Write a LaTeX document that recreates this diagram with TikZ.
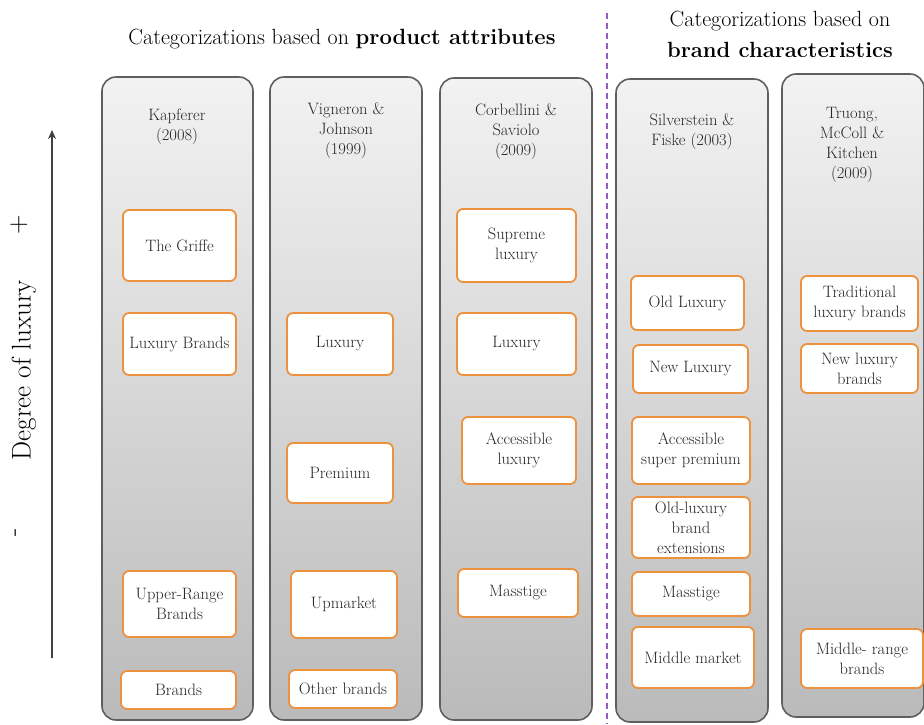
\documentclass[tikz,border=0pt]{standalone}
\usepackage{xcolor}
\usepackage{tikz}
\usetikzlibrary{arrows.meta}
\definecolor{boxorange}{RGB}{236,146,62}
\definecolor{colborder}{RGB}{95,95,95}
\definecolor{divpurple}{RGB}{150,90,200}

\begin{document}
\begin{tikzpicture}[>={Stealth[length=9pt,width=8pt]},x=1pt,y=-1pt,
  column/.style={draw=colborder,line width=1.6pt,rounded corners=14pt,top color=white!95!black,bottom color=white!73!black,inner sep=0pt},
  cat/.style={draw=boxorange,line width=1.8pt,fill=white,rounded corners=6pt,align=center,inner sep=1pt,text=black!85,font=\fontsize{16.5}{20}\selectfont},
  author/.style={align=center,inner sep=0pt,text=black!85,font=\fontsize{16.5}{20}\selectfont},
  heading/.style={align=center,inner sep=0pt,font=\fontsize{22}{31}\selectfont}]
\useasboundingbox (0,0) rectangle (924,724);

\node[heading] (prodhead) at (342,39) {Categorizations based on \textbf{product attributes}};
\node[heading] (brandhead) at (780,34) {Categorizations based on\\\textbf{brand characteristics}};

\coordinate (divtop) at (607,13);
\coordinate (divbot) at (607,724);
\draw[divpurple,line width=2.6pt,dash pattern=on 6pt off 4pt] (divtop)--(divbot);

\coordinate (low) at (52,658);
\coordinate (high) at (52,130);
\draw[->,line width=1.6pt,black!75] (low)--(high);
\node[rotate=90,font=\fontsize{27}{30}\selectfont] (degree) at (24,370) {Degree of luxury};
\node[rotate=90,font=\fontsize{27}{30}\selectfont] (plus) at (19,225) {+};
\node[rotate=90,font=\fontsize{27}{30}\selectfont] (minus) at (18,532) {-};

\node[column,minimum width=151pt,minimum height=643pt] (kapf) at (177.5,398.5) {};
\node[column,minimum width=152pt,minimum height=643pt] (vign) at (346,398.5) {};
\node[column,minimum width=152pt,minimum height=642pt] (corb) at (516,399) {};
\node[column,minimum width=152pt,minimum height=643pt] (silv) at (692,400.5) {};
\node[column,minimum width=142pt,minimum height=643pt] (truo) at (853,395.5) {};

\node[author] (kapft) at (177,127) {Kapferer\\(2008)};
\node[author] (vignt) at (346,131) {Vigneron \&\\Johnson\\(1999)};
\node[author] (corbt) at (516,132) {Corbellini \&\\Saviolo\\(2009)};
\node[author] (silvt) at (692,132) {Silverstein \&\\Fiske (2003)};
\node[author] (truot) at (852,145) {Truong,\\McColl \&\\Kitchen\\(2009)};

\node[cat,minimum width=113pt,minimum height=71pt] (griffe) at (179.5,245.5) {The Griffe};
\node[cat,minimum width=113pt,minimum height=62pt] (luxbrands) at (179.5,344) {Luxury Brands};
\node[cat,minimum width=113pt,minimum height=66pt] (upper) at (179.5,604) {Upper-Range\\Brands};
\node[cat,minimum width=115pt,minimum height=38pt] (brands) at (178.5,690) {Brands};

\node[cat,minimum width=106pt,minimum height=62pt] (luxvj) at (340,344) {Luxury};
\node[cat,minimum width=106pt,minimum height=60pt] (premium) at (340,473) {Premium};
\node[cat,minimum width=106pt,minimum height=67pt] (upmarket) at (344,604.5) {Upmarket};
\node[cat,minimum width=108pt,minimum height=38pt] (other) at (343,689) {Other brands};

\node[cat,minimum width=119pt,minimum height=73pt] (supreme) at (516.5,245.5) {Supreme\\luxury};
\node[cat,minimum width=119pt,minimum height=62pt] (luxcs) at (516.5,344) {Luxury};
\node[cat,minimum width=114pt,minimum height=67pt] (acclux) at (519,450.5) {Accessible\\luxury};
\node[cat,minimum width=120pt,minimum height=48pt] (masscs) at (518,593) {Masstige};

\node[cat,minimum width=113pt,minimum height=54pt] (oldlux) at (687.5,303) {Old Luxury};
\node[cat,minimum width=115pt,minimum height=48pt] (newlux) at (690.5,369) {New Luxury};
\node[cat,minimum width=118pt,minimum height=67pt] (superprem) at (691,450.5) {Accessible\\super premium};
\node[cat,minimum width=118pt,minimum height=61pt] (oldext) at (691,527.5) {Old-luxury\\brand\\extensions};
\node[cat,minimum width=118pt,minimum height=44pt] (masssf) at (691,594) {Masstige};
\node[cat,minimum width=122pt,minimum height=61pt] (middle) at (693,657.5) {Middle market};

\node[cat,minimum width=117pt,minimum height=55pt] (tradlux) at (859.5,303.5) {Traditional\\luxury brands};
\node[cat,minimum width=117pt,minimum height=49pt] (newluxb) at (859.5,368.5) {New luxury\\brands};
\node[cat,minimum width=122pt,minimum height=59pt] (midrange) at (862,658.5) {Middle- range\\brands};
\end{tikzpicture}
\end{document}
